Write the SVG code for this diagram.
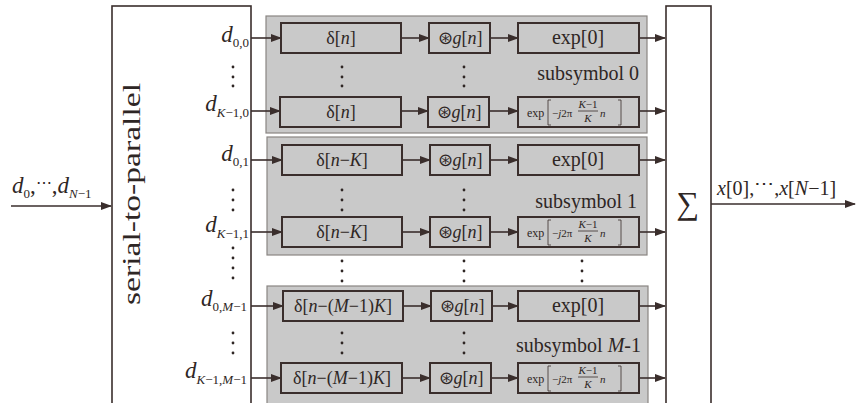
<svg xmlns="http://www.w3.org/2000/svg" width="856" height="403" viewBox="0 0 856 403">
<defs>
<marker id="ah" markerUnits="userSpaceOnUse" markerWidth="11" markerHeight="8" refX="10" refY="4" orient="auto">
<path d="M0,0 L11,4 L0,8 z" fill="#3a2e2c"/>
</marker>
<style>
.t{font-family:"Liberation Serif","Times New Roman",serif;fill:#2e2624}
.i{font-style:italic}
.big{fill:#fff;stroke:#3a2e2c;stroke-width:1.6}
.sub{fill:#c9c9c9;stroke:#8a8683;stroke-width:1.2}
.box{fill:none;stroke:#3a2e2c;stroke-width:2}
.ln{stroke:#3a2e2c;stroke-width:1.6;fill:none;marker-end:url(#ah)}
.br{stroke:#3a2e2c;stroke-width:0.8;fill:none}
.dot{fill:#2e2624}
</style>
</defs>
<rect width="856" height="403" fill="#fff"/>

<g id="sp">
<rect class="big" x="112" y="6" width="139" height="410"/>
<text class="t" transform="translate(140,194) rotate(-90)" text-anchor="middle" font-size="26" textLength="222" lengthAdjust="spacingAndGlyphs">serial-to-parallel</text>
</g>
<g id="sum">
<rect class="big" x="666" y="6" width="45" height="410"/>
<text class="t" x="688" y="214" text-anchor="middle" font-size="32">∑</text>
</g>

<g id="subsymbol0">
<rect class="sub" x="266" y="16" width="381" height="117"/>
<text class="t" x="639" y="80" text-anchor="end" font-size="20">subsymbol 0</text>
</g>
<g id="subsymbol1">
<rect class="sub" x="267" y="137" width="380" height="118"/>
<text class="t" x="637" y="208" text-anchor="end" font-size="20">subsymbol 1</text>
</g>
<g id="subsymbolM">
<rect class="sub" x="267" y="286" width="381" height="130"/>
<text class="t" x="641" y="352" text-anchor="end" font-size="20">subsymbol <tspan class="i">M</tspan>-1</text>
</g>

<!-- row 1 -->
<g id="delta1"><rect class="box" x="281" y="23" width="120" height="30"/><text class="t" x="341" y="44" text-anchor="middle" font-size="18">δ[<tspan class="i">n</tspan>]</text></g>
<g id="g1"><rect class="box" x="429" y="23" width="61" height="30"/><text class="t" x="460" y="44" text-anchor="middle" font-size="18">⊛<tspan class="i">g</tspan>[<tspan class="i">n</tspan>]</text></g>
<g id="exp1"><rect class="box" x="518" y="23" width="121" height="30"/><text class="t" x="578" y="44" text-anchor="middle" font-size="20">exp[0]</text></g>
<!-- row 2 -->
<g id="delta2"><rect class="box" x="280" y="97" width="121" height="30"/><text class="t" x="341" y="118" text-anchor="middle" font-size="18">δ[<tspan class="i">n</tspan>]</text></g>
<g id="g2"><rect class="box" x="428" y="97" width="61" height="30"/><text class="t" x="459" y="118" text-anchor="middle" font-size="18">⊛<tspan class="i">g</tspan>[<tspan class="i">n</tspan>]</text></g>
<g id="exp2" transform="translate(518,97)"><rect class="box" x="0" y="0" width="121" height="30"/>
<text class="t" x="9" y="20" font-size="12">exp</text>
<path class="br" d="M33,3 h-3 v25 h3 M100,3 h3 v25 h-3"/>
<text class="t" x="34" y="20" font-size="11">−<tspan class="i">j</tspan>2π</text>
<text class="t" x="70" y="11" text-anchor="middle" font-size="11"><tspan class="i">K</tspan>−1</text>
<line class="br" x1="60" y1="14" x2="80" y2="14" stroke-width="0.6"/>
<text class="t i" x="70" y="25" text-anchor="middle" font-size="11">K</text>
<text class="t i" x="82" y="20" font-size="11">n</text>
</g>
<!-- row 3 -->
<g id="delta3"><rect class="box" x="282" y="145" width="120" height="30"/><text class="t" x="342" y="166" text-anchor="middle" font-size="18">δ[<tspan class="i">n</tspan>−<tspan class="i">K</tspan>]</text></g>
<g id="g3"><rect class="box" x="430" y="145" width="60" height="30"/><text class="t" x="460" y="166" text-anchor="middle" font-size="18">⊛<tspan class="i">g</tspan>[<tspan class="i">n</tspan>]</text></g>
<g id="exp3"><rect class="box" x="518" y="145" width="121" height="30"/><text class="t" x="578" y="166" text-anchor="middle" font-size="20">exp[0]</text></g>
<!-- row 4 -->
<g id="delta4"><rect class="box" x="282" y="217" width="120" height="30"/><text class="t" x="342" y="238" text-anchor="middle" font-size="18">δ[<tspan class="i">n</tspan>−<tspan class="i">K</tspan>]</text></g>
<g id="g4"><rect class="box" x="430" y="217" width="60" height="30"/><text class="t" x="460" y="238" text-anchor="middle" font-size="18">⊛<tspan class="i">g</tspan>[<tspan class="i">n</tspan>]</text></g>
<g id="exp4" transform="translate(518,217)"><rect class="box" x="0" y="0" width="121" height="30"/>
<text class="t" x="9" y="20" font-size="12">exp</text>
<path class="br" d="M33,3 h-3 v25 h3 M100,3 h3 v25 h-3"/>
<text class="t" x="34" y="20" font-size="11">−<tspan class="i">j</tspan>2π</text>
<text class="t" x="70" y="11" text-anchor="middle" font-size="11"><tspan class="i">K</tspan>−1</text>
<line class="br" x1="60" y1="14" x2="80" y2="14" stroke-width="0.6"/>
<text class="t i" x="70" y="25" text-anchor="middle" font-size="11">K</text>
<text class="t i" x="82" y="20" font-size="11">n</text>
</g>
<!-- row 5 -->
<g id="delta5"><rect class="box" x="283" y="291" width="120" height="30"/><text class="t" x="343" y="312" text-anchor="middle" font-size="18">δ[<tspan class="i">n</tspan>−(<tspan class="i">M</tspan>−1)<tspan class="i">K</tspan>]</text></g>
<g id="g5"><rect class="box" x="431" y="291" width="61" height="30"/><text class="t" x="462" y="312" text-anchor="middle" font-size="18">⊛<tspan class="i">g</tspan>[<tspan class="i">n</tspan>]</text></g>
<g id="exp5"><rect class="box" x="518" y="291" width="121" height="30"/><text class="t" x="578" y="312" text-anchor="middle" font-size="20">exp[0]</text></g>
<!-- row 6 -->
<g id="delta6"><rect class="box" x="281" y="363" width="121" height="30"/><text class="t" x="342" y="384" text-anchor="middle" font-size="18">δ[<tspan class="i">n</tspan>−(<tspan class="i">M</tspan>−1)<tspan class="i">K</tspan>]</text></g>
<g id="g6"><rect class="box" x="430" y="363" width="61" height="30"/><text class="t" x="461" y="384" text-anchor="middle" font-size="18">⊛<tspan class="i">g</tspan>[<tspan class="i">n</tspan>]</text></g>
<g id="exp6" transform="translate(518,363)"><rect class="box" x="0" y="0" width="121" height="30"/>
<text class="t" x="9" y="20" font-size="12">exp</text>
<path class="br" d="M33,3 h-3 v25 h3 M100,3 h3 v25 h-3"/>
<text class="t" x="34" y="20" font-size="11">−<tspan class="i">j</tspan>2π</text>
<text class="t" x="70" y="11" text-anchor="middle" font-size="11"><tspan class="i">K</tspan>−1</text>
<line class="br" x1="60" y1="14" x2="80" y2="14" stroke-width="0.6"/>
<text class="t i" x="70" y="25" text-anchor="middle" font-size="11">K</text>
<text class="t i" x="82" y="20" font-size="11">n</text>
</g>

<g id="labels">
<text class="t" x="249" y="42" text-anchor="end" font-size="23"><tspan class="i">d</tspan><tspan font-size="13" dy="5">0,0</tspan></text>
<text class="t" x="249" y="111" text-anchor="end" font-size="23"><tspan class="i">d</tspan><tspan font-size="13" dy="6"><tspan class="i">K</tspan>−1,0</tspan></text>
<text class="t" x="249" y="161" text-anchor="end" font-size="23"><tspan class="i">d</tspan><tspan font-size="13" dy="5">0,1</tspan></text>
<text class="t" x="249" y="232" text-anchor="end" font-size="23"><tspan class="i">d</tspan><tspan font-size="13" dy="6"><tspan class="i">K</tspan>−1,1</tspan></text>
<text class="t" x="247" y="306" text-anchor="end" font-size="23"><tspan class="i">d</tspan><tspan font-size="13" dy="5">0,<tspan class="i">M</tspan>−1</tspan></text>
<text class="t" x="247" y="378" text-anchor="end" font-size="23"><tspan class="i">d</tspan><tspan font-size="13" dy="6"><tspan class="i">K</tspan>−1,<tspan class="i">M</tspan>−1</tspan></text>
<text class="t" x="12" y="193" font-size="23"><tspan class="i">d</tspan><tspan font-size="13" dy="5">0</tspan><tspan dy="-5">,</tspan><tspan font-size="16" dy="-5">⋯</tspan><tspan dy="5">,</tspan><tspan class="i">d</tspan><tspan font-size="13" dy="5"><tspan class="i">N</tspan>−1</tspan></text>
<text class="t" x="717" y="195" font-size="20"><tspan class="i">x</tspan>[0],<tspan dy="-5">⋯</tspan><tspan dy="5">,</tspan><tspan class="i">x</tspan>[<tspan class="i">N</tspan>−1]</text>
</g>

<g id="dots">
<circle class="dot" cx="233" cy="67" r="1.4"/><circle class="dot" cx="233" cy="77" r="1.4"/><circle class="dot" cx="233" cy="86" r="1.4"/>
<circle class="dot" cx="233" cy="190" r="1.4"/><circle class="dot" cx="233" cy="200" r="1.4"/><circle class="dot" cx="233" cy="210" r="1.4"/>
<circle class="dot" cx="233" cy="248" r="1.4"/><circle class="dot" cx="233" cy="258" r="1.4"/><circle class="dot" cx="233" cy="268" r="1.4"/><circle class="dot" cx="233" cy="278" r="1.4"/>
<circle class="dot" cx="233" cy="333" r="1.4"/><circle class="dot" cx="233" cy="343" r="1.4"/><circle class="dot" cx="233" cy="353" r="1.4"/>
<circle class="dot" cx="342" cy="67" r="1.4"/><circle class="dot" cx="342" cy="77" r="1.4"/><circle class="dot" cx="342" cy="86" r="1.4"/>
<circle class="dot" cx="464" cy="67" r="1.4"/><circle class="dot" cx="464" cy="77" r="1.4"/><circle class="dot" cx="464" cy="86" r="1.4"/>
<circle class="dot" cx="342" cy="190" r="1.4"/><circle class="dot" cx="342" cy="200" r="1.4"/><circle class="dot" cx="342" cy="210" r="1.4"/>
<circle class="dot" cx="464" cy="190" r="1.4"/><circle class="dot" cx="464" cy="200" r="1.4"/><circle class="dot" cx="464" cy="210" r="1.4"/>
<circle class="dot" cx="342" cy="261" r="1.4"/><circle class="dot" cx="342" cy="271" r="1.4"/><circle class="dot" cx="342" cy="281" r="1.4"/>
<circle class="dot" cx="464" cy="261" r="1.4"/><circle class="dot" cx="464" cy="271" r="1.4"/><circle class="dot" cx="464" cy="281" r="1.4"/>
<circle class="dot" cx="582" cy="261" r="1.4"/><circle class="dot" cx="582" cy="271" r="1.4"/><circle class="dot" cx="582" cy="281" r="1.4"/>
<circle class="dot" cx="342" cy="333" r="1.4"/><circle class="dot" cx="342" cy="343" r="1.4"/><circle class="dot" cx="342" cy="353" r="1.4"/>
<circle class="dot" cx="464" cy="333" r="1.4"/><circle class="dot" cx="464" cy="343" r="1.4"/><circle class="dot" cx="464" cy="353" r="1.4"/>
</g>

<g id="connectors">
<line class="ln" x1="11" y1="206" x2="111" y2="206"/>
<line class="ln" x1="711" y1="204" x2="855" y2="204"/>
<line class="ln" x1="251" y1="38" x2="281" y2="38"/>
<line class="ln" x1="401" y1="38" x2="429" y2="38"/>
<line class="ln" x1="490" y1="38" x2="518" y2="38"/>
<line class="ln" x1="639" y1="38" x2="665" y2="38"/>
<line class="ln" x1="251" y1="111" x2="280" y2="111"/>
<line class="ln" x1="401" y1="111" x2="428" y2="111"/>
<line class="ln" x1="489" y1="111" x2="518" y2="111"/>
<line class="ln" x1="639" y1="111" x2="665" y2="111"/>
<line class="ln" x1="251" y1="160" x2="282" y2="160"/>
<line class="ln" x1="402" y1="160" x2="430" y2="160"/>
<line class="ln" x1="490" y1="160" x2="518" y2="160"/>
<line class="ln" x1="639" y1="160" x2="665" y2="160"/>
<line class="ln" x1="251" y1="232" x2="282" y2="232"/>
<line class="ln" x1="402" y1="232" x2="430" y2="232"/>
<line class="ln" x1="490" y1="232" x2="518" y2="232"/>
<line class="ln" x1="639" y1="232" x2="665" y2="232"/>
<line class="ln" x1="251" y1="306" x2="283" y2="306"/>
<line class="ln" x1="403" y1="306" x2="431" y2="306"/>
<line class="ln" x1="492" y1="306" x2="518" y2="306"/>
<line class="ln" x1="639" y1="306" x2="665" y2="306"/>
<line class="ln" x1="251" y1="378" x2="281" y2="378"/>
<line class="ln" x1="402" y1="378" x2="430" y2="378"/>
<line class="ln" x1="491" y1="378" x2="518" y2="378"/>
<line class="ln" x1="639" y1="378" x2="665" y2="378"/>
</g>
</svg>
